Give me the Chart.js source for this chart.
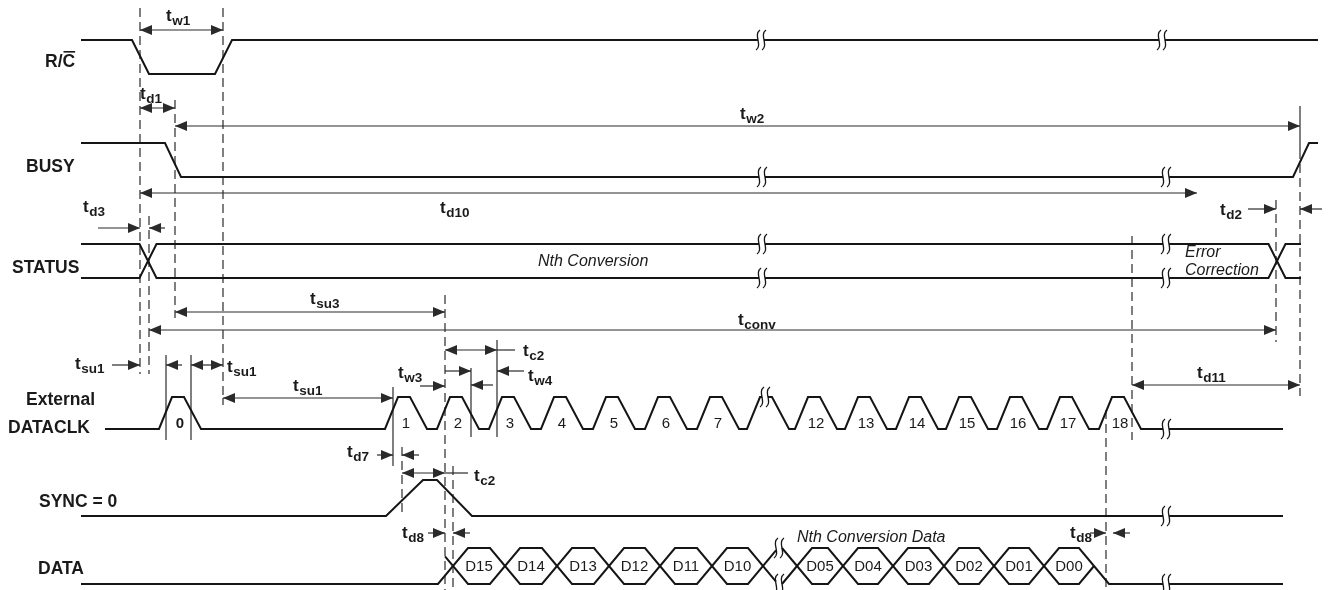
<!DOCTYPE html>
<html>
<head>
<meta charset="utf-8">
<script src="https://cdn.jsdelivr.net/npm/chart.js@4.4.1/dist/chart.umd.min.js"></script>
<style>
  html, body { margin: 0; padding: 0; background: #fff; }
  #wrap { position: relative; width: 1328px; height: 590px; }
</style>
</head>
<body>
<div id="wrap"><canvas id="timing"></canvas></div>
<script>
// ---- signal data: x = position along the time axis, level 1 = high ----
const rcEdges = [81, 132, 149, 215, 232, 1318];
const rcLevels = [1, 1, 0, 0, 1, 1];
const rcBreaks = [761, 1162];

const busyEdges = [81, 165, 181, 1293, 1309, 1318];
const busyLevels = [1, 1, 0, 0, 1, 1];
const busyBreaks = [762, 1166];

const statusSpan = [81, 1301];
const statusCross = [148, 1277];
const statusBreaks = [762, 1166];

const clkSpan = [105, 1283];
const clkPulses = [172, 398, 450, 502, 554, 606, 658, 710, 760, 808, 858, 909, 959, 1010, 1060, 1112];
const clkLabels = ['0', '1', '2', '3', '4', '5', '6', '7', '', '12', '13', '14', '15', '16', '17', '18'];
const clkBreaks = [765, 1166];

const syncEdges = [81, 386, 423, 437, 472, 1283];
const syncLevels = [0, 0, 1, 1, 0, 0];
const syncBreaks = [1166];

const dataSpan = [81, 1283];
const dataCross = [453, 505, 557, 609, 660, 712, 763, 797, 843, 893, 944, 994, 1044, 1094];
const dataBits = ['D15', 'D14', 'D13', 'D12', 'D11', 'D10', 'D05', 'D04', 'D03', 'D02', 'D01', 'D00'];
const dataBreaks = [779, 1166];

// ---- layout ----
const LANES = {
  rc: { hi: 40, lo: 74 },
  busy: { hi: 143, lo: 177 },
  status: { hi: 244, lo: 278 },
  clk: { hi: 397, lo: 429 },
  sync: { hi: 480, lo: 516 },
  data: { hi: 548, lo: 584 },
};
const CLK_RISE = 13, CLK_TOP = 12, CLK_FALL = 17;
const WAVE = '#151515';
const INK = '#2a2a2a';
const SANS = '"Liberation Sans", Arial, Helvetica, sans-serif';

const signalNames = [
  { text: 'R/C', x: 45, y: 67, bar: 'C' },
  { text: 'BUSY', x: 26, y: 172 },
  { text: 'STATUS', x: 12, y: 273 },
  { text: 'External', x: 26, y: 405 },
  { text: 'DATACLK', x: 8, y: 433 },
  { text: 'SYNC = 0', x: 39, y: 507 },
  { text: 'DATA', x: 38, y: 574 },
];

const timingLabels = [
  { x: 166, y: 21, sub: 'w1' },
  { x: 140, y: 99, sub: 'd1' },
  { x: 740, y: 119, sub: 'w2' },
  { x: 83, y: 212, sub: 'd3' },
  { x: 440, y: 213, sub: 'd10' },
  { x: 1220, y: 215, sub: 'd2' },
  { x: 310, y: 304, sub: 'su3' },
  { x: 738, y: 325, sub: 'conv' },
  { x: 75, y: 369, sub: 'su1' },
  { x: 227, y: 372, sub: 'su1' },
  { x: 293, y: 391, sub: 'su1' },
  { x: 523, y: 356, sub: 'c2' },
  { x: 398, y: 378, sub: 'w3' },
  { x: 528, y: 381, sub: 'w4' },
  { x: 347, y: 457, sub: 'd7' },
  { x: 474, y: 481, sub: 'c2' },
  { x: 402, y: 538, sub: 'd8' },
  { x: 1070, y: 538, sub: 'd8' },
  { x: 1197, y: 378, sub: 'd11' },
];

const notes = [
  { text: 'Nth Conversion', x: 538, y: 266 },
  { text: 'Error', x: 1185, y: 257 },
  { text: 'Correction', x: 1185, y: 275 },
  { text: 'Nth Conversion Data', x: 797, y: 542 },
];

// [x, yTop, yBottom]
const dashedGuides = [
  [140, 8, 374], [223, 8, 398], [149, 216, 374], [175, 100, 318],
  [445, 295, 590], [1300, 150, 396], [1276, 200, 342], [1132, 236, 440],
  [1106, 410, 590], [402, 447, 512], [453, 466, 590],
];
const solidGuides = [
  [166, 355, 440], [191, 355, 440], [393, 387, 466], [471, 368, 437],
  [497, 340, 437], [223, 398, 405], [1300, 106, 150],
];
// [y, x1, x2, head at x1, head at x2]
const arrows = [
  [30, 140, 223, 1, 1], [108, 140, 175, 1, 1], [126, 175, 1300, 1, 1],
  [193, 140, 1197, 1, 1], [228, 98, 140, 0, 1], [228, 149, 165, 1, 0],
  [209, 1248, 1276, 0, 1], [209, 1300, 1322, 1, 0], [312, 175, 445, 1, 1],
  [330, 149, 1276, 1, 1], [365, 112, 140, 0, 1], [365, 166, 182, 1, 0],
  [365, 191, 223, 1, 1], [398, 223, 393, 1, 1], [350, 445, 497, 1, 1],
  [350, 497, 515, 0, 0], [386, 420, 445, 0, 1], [371, 445, 471, 0, 1],
  [385, 471, 493, 1, 0], [371, 497, 524, 1, 0], [455, 377, 393, 0, 1],
  [455, 402, 419, 1, 0], [473, 402, 445, 1, 1], [473, 445, 468, 0, 0],
  [533, 428, 445, 0, 1], [533, 453, 470, 1, 0], [533, 1090, 1106, 0, 1],
  [533, 1113, 1130, 1, 0], [385, 1132, 1300, 1, 1],
];

// ---- waveform builders ----
function levelPoints(edges, levels, lane) {
  return edges.map((x, i) => ({ x, y: levels[i] ? lane.hi : lane.lo }));
}
function clockPoints(lane) {
  const pts = [{ x: clkSpan[0], y: lane.lo }];
  clkPulses.forEach((p) => {
    pts.push({ x: p - CLK_RISE, y: lane.lo }, { x: p, y: lane.hi },
      { x: p + CLK_TOP, y: lane.hi }, { x: p + CLK_TOP + CLK_FALL, y: lane.lo });
  });
  pts.push({ x: clkSpan[1], y: lane.lo });
  return pts;
}
function busRail(x0, level0, crossings, x1, lane, h) {
  const lv = (l) => (l ? lane.hi : lane.lo);
  let l = level0;
  const pts = [{ x: x0, y: lv(l) }];
  crossings.forEach((c) => {
    pts.push({ x: c - h, y: lv(l) });
    l = 1 - l;
    pts.push({ x: c + h, y: lv(l) });
  });
  pts.push({ x: x1, y: lv(l) });
  return pts;
}
function interp(a, b, x) {
  const t = (x - a.x) / (b.x - a.x);
  return { x, y: a.y + (b.y - a.y) * t };
}
function clipRange(pts, x0, x1) {
  const out = [];
  for (let i = 0; i < pts.length - 1; i++) {
    const a = pts[i], b = pts[i + 1];
    if (b.x <= x0 || a.x >= x1) continue;
    const s = a.x < x0 ? interp(a, b, x0) : a;
    const e = b.x > x1 ? interp(a, b, x1) : b;
    if (!out.length) out.push(s);
    out.push(e);
  }
  return out;
}
function yAt(pts, x) {
  for (let i = 0; i < pts.length - 1; i++) {
    if (pts[i].x <= x && pts[i + 1].x >= x) return interp(pts[i], pts[i + 1], x).y;
  }
  return null;
}

const squiggles = [];
const segments = [];
function addWave(pts, breaks, gap = 3) {
  const cuts = [pts[0].x];
  breaks.forEach((b) => {
    const yb = yAt(pts, b);
    if (yb !== null) {
      squiggles.push({ x: b, y: yb });
      cuts.push(b - gap, b + gap);
    }
  });
  cuts.push(pts[pts.length - 1].x);
  for (let i = 0; i < cuts.length; i += 2) {
    const seg = clipRange(pts, cuts[i], cuts[i + 1]);
    if (seg.length > 1) segments.push(seg);
  }
}

addWave(levelPoints(rcEdges, rcLevels, LANES.rc), rcBreaks);
addWave(levelPoints(busyEdges, busyLevels, LANES.busy), busyBreaks);
addWave(busRail(statusSpan[0], 1, statusCross, statusSpan[1], LANES.status, 8.5), statusBreaks);
addWave(busRail(statusSpan[0], 0, statusCross, statusSpan[1], LANES.status, 8.5), statusBreaks);
addWave(clockPoints(LANES.clk), clkBreaks);
addWave(levelPoints(syncEdges, syncLevels, LANES.sync), syncBreaks);
const railA = busRail(dataSpan[0], 0, dataCross, dataSpan[1], LANES.data, 15);
const railB = clipRange(busRail(dataCross[0] - 15, 1, dataCross, dataSpan[1], LANES.data, 15),
  dataCross[0] - 8, dataCross[dataCross.length - 1]);
addWave(railA, dataBreaks);
addWave(railB, dataBreaks);

// ---- drawing helpers ----
function drawArrowHead(ctx, x, y, dir) {
  const L = 12, W = 5;
  ctx.beginPath();
  ctx.moveTo(x, y);
  ctx.lineTo(x - dir * L, y - W);
  ctx.lineTo(x - dir * L, y + W);
  ctx.closePath();
  ctx.fill();
}
function drawTLabel(ctx, x, y, sub) {
  ctx.font = 'bold 17px ' + SANS;
  ctx.fillText('t', x, y);
  const w = ctx.measureText('t').width;
  ctx.font = 'bold 13.5px ' + SANS;
  ctx.fillText(sub, x + w + 0.5, y + 4);
}
function drawSquiggle(ctx, x, y) {
  [-3, 3].forEach((dx) => {
    ctx.beginPath();
    ctx.moveTo(x + dx + 2, y - 10);
    ctx.bezierCurveTo(x + dx - 5, y - 5, x + dx + 5, y + 5, x + dx - 2, y + 10);
    ctx.stroke();
  });
}

const timingLayer = {
  id: 'timingLayer',
  beforeDatasetsDraw(chart) {
    const { ctx, scales: { x, y } } = chart;
    const px = (v) => x.getPixelForValue(v);
    const py = (v) => y.getPixelForValue(v);
    ctx.save();
    ctx.strokeStyle = INK;
    ctx.fillStyle = INK;
    ctx.lineWidth = 1.2;
    ctx.setLineDash([9, 5]);
    dashedGuides.forEach(([gx, y0, y1]) => {
      ctx.beginPath();
      ctx.moveTo(px(gx), py(y0));
      ctx.lineTo(px(gx), py(y1));
      ctx.stroke();
    });
    ctx.setLineDash([]);
    solidGuides.forEach(([gx, y0, y1]) => {
      ctx.beginPath();
      ctx.moveTo(px(gx), py(y0));
      ctx.lineTo(px(gx), py(y1));
      ctx.stroke();
    });
    arrows.forEach(([ay, x1, x2, h1, h2]) => {
      ctx.beginPath();
      ctx.moveTo(px(x1), py(ay));
      ctx.lineTo(px(x2), py(ay));
      ctx.stroke();
      if (h1) drawArrowHead(ctx, px(x1), py(ay), -1);
      if (h2) drawArrowHead(ctx, px(x2), py(ay), 1);
    });
    ctx.restore();
  },
  afterDatasetsDraw(chart) {
    const { ctx, scales: { x, y } } = chart;
    const px = (v) => x.getPixelForValue(v);
    const py = (v) => y.getPixelForValue(v);
    ctx.save();
    ctx.strokeStyle = WAVE;
    ctx.lineWidth = 1.3;
    squiggles.forEach((s) => drawSquiggle(ctx, px(s.x), py(s.y)));

    ctx.fillStyle = '#1a1a1a';
    ctx.textBaseline = 'alphabetic';
    ctx.textAlign = 'left';
    ctx.font = 'bold 17.5px ' + SANS;
    signalNames.forEach((n) => {
      ctx.fillText(n.text, px(n.x), py(n.y));
      if (n.bar) {
        const pre = ctx.measureText(n.text.slice(0, n.text.indexOf(n.bar))).width;
        const bw = ctx.measureText(n.bar).width;
        ctx.fillRect(px(n.x) + pre + 1, py(n.y) - 16, bw - 1, 1.6);
      }
    });

    timingLabels.forEach((t) => drawTLabel(ctx, px(t.x), py(t.y), t.sub));

    ctx.textAlign = 'center';
    clkPulses.forEach((p, i) => {
      if (!clkLabels[i]) return;
      ctx.font = (i === 0 ? 'bold 15px ' : '15px ') + SANS;
      ctx.fillText(clkLabels[i], px(p + 8), py(LANES.clk.lo - 1));
    });
    ctx.font = '15px ' + SANS;
    const firstHalf = dataCross.slice(0, 7);
    const secondHalf = dataCross.slice(7);
    [firstHalf, secondHalf].forEach((cr, k) => {
      for (let i = 0; i < cr.length - 1; i++) {
        ctx.fillText(dataBits[k * 6 + i], px((cr[i] + cr[i + 1]) / 2), py(LANES.data.lo - 13));
      }
    });

    ctx.textAlign = 'left';
    ctx.font = 'italic 16px ' + SANS;
    notes.forEach((n) => ctx.fillText(n.text, px(n.x), py(n.y)));
    ctx.restore();
  },
};

new Chart(document.getElementById('timing'), {
  type: 'scatter',
  data: {
    datasets: segments.map((seg) => ({
      data: seg,
      showLine: true,
      borderColor: WAVE,
      borderWidth: 2,
      pointRadius: 0,
      pointHoverRadius: 0,
      fill: false,
      tension: 0,
    })),
  },
  options: {
    responsive: true,
    maintainAspectRatio: false,
    devicePixelRatio: 1,
    animation: false,
    events: [],
    layout: { padding: 0 },
    plugins: { legend: { display: false }, tooltip: { enabled: false } },
    scales: {
      x: { type: 'linear', min: 0, max: 1328, display: false },
      y: { type: 'linear', min: 0, max: 590, reverse: true, display: false },
    },
  },
  plugins: [timingLayer],
});
</script>
</body>
</html>
